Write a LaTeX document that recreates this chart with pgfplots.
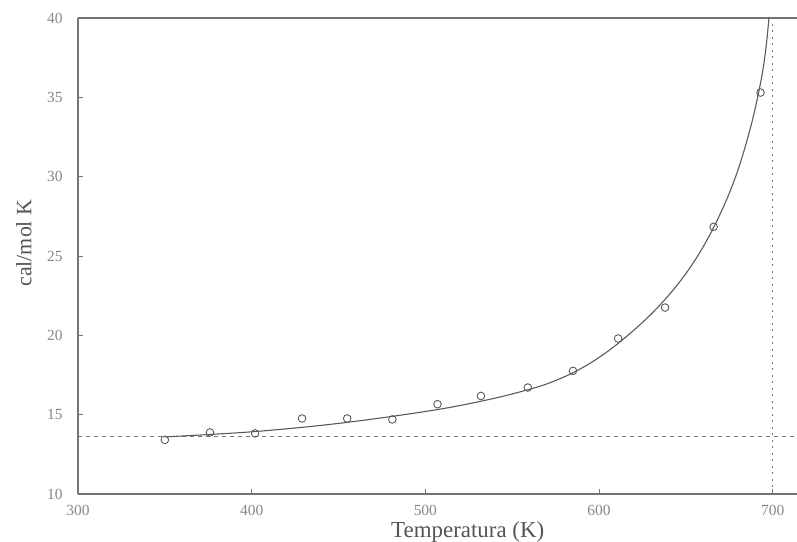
\documentclass[border=0pt]{standalone}
\usepackage{fontspec}
\setmainfont{Liberation Serif}
\usepackage{pgfplots}
\pgfplotsset{compat=1.18}
\definecolor{axgray}{RGB}{115,115,115}
\definecolor{txtgray}{RGB}{135,135,135}
\definecolor{lblgray}{RGB}{85,85,85}
\definecolor{crvgray}{RGB}{90,90,90}
\begin{document}
\begin{tikzpicture}
\begin{axis}[
  scale only axis, width=719bp, height=476bp,
  xmin=300, xmax=714, ymin=10, ymax=40,
  axis x line=box, axis y line=left,
  axis line style={-, draw=axgray, line width=1.3bp},
  xtick={300,400,...,700}, ytick={10,15,...,40},
  xtick pos=bottom, ytick pos=left,
  tick align=inside, major tick length=5bp,
  tick style={axgray, line width=0.9bp},
  /pgf/number format/assume math mode=true,
  ticklabel style={font=\fontsize{15.5}{15.5}\selectfont, text=txtgray},
  xticklabel style={yshift=-8bp},
  yticklabel style={xshift=-12bp},
  xlabel={Temperatura (K)},
  ylabel={cal/mol K},
  xlabel style={at={(rel axis cs:0.542,0)}, anchor=base, yshift=-43bp,
    font=\fontsize{23}{23}\selectfont, text=lblgray},
  ylabel style={at={(rel axis cs:0,0.527)}, anchor=center, yshift=54bp,
    font=\fontsize{22}{22}\selectfont, text=lblgray},
  clip=true,
]
% reference lines
\addplot[draw=axgray, line width=1bp, dash pattern=on 4bp off 4bp] coordinates {(300,13.6) (714,13.6)};
\addplot[draw=axgray, line width=1.6bp, dash pattern=on 2bp off 4.5bp] coordinates {(700,10) (700,40)};
% fitted curve
\addplot[draw=crvgray, line width=1.1bp, smooth, tension=0.6] coordinates {
(350,13.6)(400,13.92)(450,14.45)(500,15.2)(530,15.8)(555,16.45)(575,17.15)(595,18.25)(615,19.85)(635,21.9)(652,24.2)(666,26.8)(678,29.8)(687,33.0)(693,35.9)(696,38.0)(698,40.2)};
% data points
\addplot[only marks, mark=o, mark size=3.8bp, mark options={draw=crvgray, fill=white, line width=0.9bp}] coordinates {
(350,13.41)(376,13.88)(402,13.82)(429,14.76)(455,14.76)(481,14.7)(507,15.66)(532,16.18)(559,16.71)(585,17.76)(611,19.8)(638,21.75)(666,26.84)(693,35.3)};
\coordinate (ll) at (rel axis cs:0,0);
\coordinate (ur) at (rel axis cs:1,1);
\end{axis}
\pgfresetboundingbox
\path[use as bounding box] ([shift={(-78bp,-48bp)}]ll) rectangle ([shift={(0bp,18bp)}]ur);
\end{tikzpicture}
\end{document}
